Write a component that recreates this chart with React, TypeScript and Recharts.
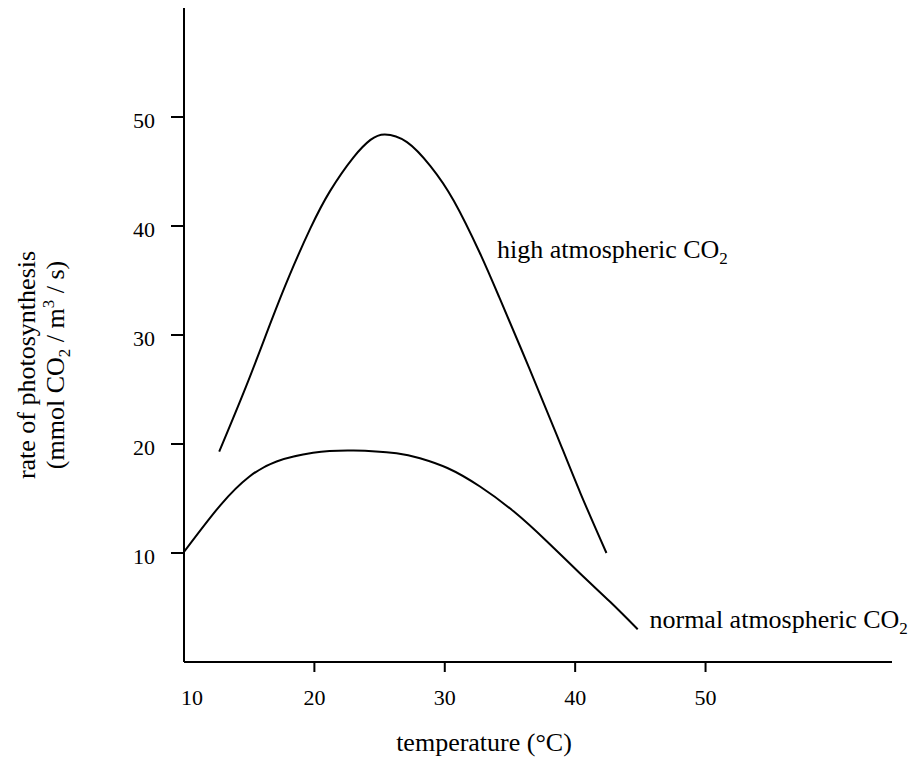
import { LineChart, Line, XAxis, YAxis, ReferenceDot, Label } from 'recharts'

// values (temperature in °C, rate in mmol CO2 / m3 / s)
const highTemps = [12.7, 14.8, 16.6, 18.1, 19.7, 21.2, 23.0, 24.3, 25.4, 27.1, 28.9, 30.7, 32.7, 34.2, 36.5, 38.6, 40.4, 42.4]
const highRates = [19.3, 25.4, 31.0, 35.5, 39.8, 43.2, 46.3, 47.9, 48.4, 47.7, 45.5, 42.3, 37.5, 33.4, 26.9, 20.8, 15.5, 10.0]

const normalTemps = [10.0, 12.8, 15.0, 17.1, 19.9, 23.0, 26.3, 28.1, 30.2, 32.7, 35.3, 37.8, 40.4, 42.7, 44.8]
const normalRates = [10.1, 14.4, 17.0, 18.4, 19.2, 19.4, 19.15, 18.7, 17.8, 16.1, 13.8, 11.1, 8.1, 5.5, 3.0]

const xTicks = [10, 20, 30, 40, 50]
const yTicks = [10, 20, 30, 40, 50]

const highData = highTemps.map((t, i) => ({ t, rate: highRates[i] }))
const normalData = normalTemps.map((t, i) => ({ t, rate: normalRates[i] }))

const font = '"Liberation Serif", "Times New Roman", serif'

// x tick: own tick line so the first one (at the corner) has none
function XTick({ x, y, payload }: any) {
    const first = payload.value === xTicks[0]
    return (
        <g>
            {!first && <line x1={x} x2={x} y1={y - 27} y2={y - 17} stroke="#000" strokeWidth={2} />}
            <text x={first ? x + 8 : x} y={y} dy="0.71em" textAnchor="middle" fontSize={22} fontFamily={font} fill="#000">
                {payload.value}
            </text>
        </g>
    )
}

function YTick({ x, y, payload }: any) {
    return (
        <text x={x} y={y} dy={11} textAnchor="end" fontSize={22} fontFamily={font} fill="#000">
            {payload.value}
        </text>
    )
}

// text beside a curve, drawn from a reference dot
function CurveLabel({ viewBox, text }: any) {
    return (
        <text x={viewBox.x} y={viewBox.y} fontSize={26} fontFamily={font} fill="#000">
            {text}
            <tspan fontSize={17} dy={6}>2</tspan>
        </text>
    )
}

function XTitle() {
    return (
        <text x={484} y={751} textAnchor="middle" fontSize={26} fontFamily={font} fill="#000">
            temperature (°C)
        </text>
    )
}

function YTitle() {
    return (
        <g fontSize={26} fontFamily={font} fill="#000">
            <text x={35} y={365} textAnchor="middle" transform="rotate(-90, 35, 365)">
                rate of photosynthesis
            </text>
            <text x={64} y={365} textAnchor="middle" transform="rotate(-90, 64, 365)">
                (mmol CO<tspan fontSize={17} dy={6}>2</tspan>
                <tspan dy={-6}> / m</tspan>
                <tspan fontSize={17} dy={-10}>3</tspan>
                <tspan dy={10}> / s)</tspan>
            </text>
        </g>
    )
}

export default function App() {
    return (
        <div style={{ position: 'absolute', left: 0, top: 0, width: 916, height: 758, background: '#fff' }}>
            <LineChart width={916} height={758} margin={{ top: 8, right: 24, bottom: 0, left: 0 }}>
                <XAxis
                    dataKey="t"
                    type="number"
                    domain={[10, 64.3]}
                    ticks={xTicks}
                    interval={0}
                    height={96}
                    axisLine={{ stroke: '#000', strokeWidth: 2 }}
                    tickLine={false}
                    tickSize={10}
                    tickMargin={17}
                    tick={<XTick />}
                    allowDataOverflow
                >
                    <Label content={<XTitle />} />
                </XAxis>
                <YAxis
                    type="number"
                    domain={[0, 60]}
                    ticks={yTicks}
                    interval={0}
                    width={184}
                    axisLine={{ stroke: '#000', strokeWidth: 2 }}
                    tickLine={{ stroke: '#000', strokeWidth: 2 }}
                    tickSize={13}
                    tickMargin={16}
                    tick={<YTick />}
                    allowDataOverflow
                >
                    <Label content={<YTitle />} />
                </YAxis>

                <Line
                    data={highData}
                    dataKey="rate"
                    type="natural"
                    stroke="#000"
                    strokeWidth={2}
                    dot={false}
                    isAnimationActive={false}
                />
                <Line
                    data={normalData}
                    dataKey="rate"
                    type="natural"
                    stroke="#000"
                    strokeWidth={2}
                    dot={false}
                    isAnimationActive={false}
                />

                <ReferenceDot x={34.0} y={37.1} r={0} fill="none" stroke="none" label={<CurveLabel text="high atmospheric CO" />} />
                <ReferenceDot x={45.7} y={3.1} r={0} fill="none" stroke="none" label={<CurveLabel text="normal atmospheric CO" />} />
            </LineChart>
        </div>
    )
}
